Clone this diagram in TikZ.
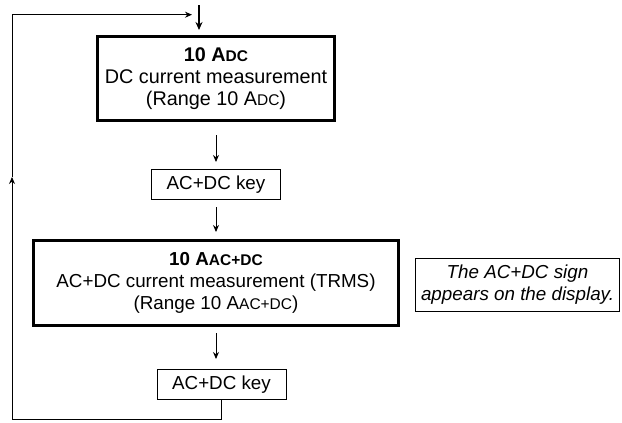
\documentclass[tikz,border=0pt]{standalone}
\usepackage{fontspec}
\setmainfont{Liberation Sans}
\usetikzlibrary{arrows.meta, positioning}

\newcommand{\smallcaptext}[1]{{\fontsize{15.5}{15.5}\selectfont #1}}

\begin{document}
\begin{tikzpicture}[
    x=1pt, y=-1pt,
    every node/.style={font=\fontsize{18.8}{22}\selectfont},
    modebox/.style={rectangle, draw=black, line width=3pt, minimum width=237pt, minimum height=84pt, align=center, inner sep=2pt},
    keybox/.style={rectangle, draw=black, line width=1pt, minimum width=129pt, minimum height=30pt, inner sep=2pt},
    notebox/.style={rectangle, draw=black, line width=1pt, minimum width=204pt, minimum height=53pt, align=center, inner sep=2pt, font=\fontsize{18.8}{22}\selectfont\itshape},
    flow/.style={-{Stealth[length=7pt,width=6pt]}, line width=1pt, shorten <=7pt, shorten >=7pt},
    loopline/.style={line width=1pt}
]
\useasboundingbox (0,0) rectangle (622,423);

\node[modebox, font=\fontsize{19.8}{22}\selectfont] (dcmode) at (216,78.5) {\textbf{10 A\smallcaptext{DC}}\\DC current measurement\\(Range 10 A\smallcaptext{DC})};

\node[keybox, below=47pt of dcmode] (firstkey) {AC+DC key};

\node[modebox, minimum width=365pt, minimum height=85pt, below=39pt of firstkey] (acdcmode) {\textbf{10 A\smallcaptext{AC+DC}}\\AC+DC current measurement (TRMS)\\(Range 10 A\smallcaptext{AC+DC})};

\node[keybox, below=42pt of acdcmode, xshift=5.5pt] (secondkey) {AC+DC key};

\node[notebox, right=15pt of acdcmode, yshift=-2pt] (signnote) {The AC+DC sign\\appears on the display.};

\draw[flow, shorten <=13pt] (dcmode) -- (firstkey);
\draw[flow] (firstkey) -- (acdcmode);
\draw[flow, shorten <=6pt, shorten >=10pt] (acdcmode.south) -- (acdcmode.south |- secondkey.north);

% loop back to the top
\coordinate (loopcorner) at (12,419);
\coordinate (loopmid) at (12,177);
\coordinate (looptop) at (12,14.7);
\coordinate (loopend) at (192,14.7);
\draw[loopline] (secondkey) |- (loopcorner);
\draw[loopline, -{Stealth[length=7pt,width=6pt]}] (loopcorner) -- (loopmid);
\draw[loopline, -{Stealth[length=7pt,width=6pt]}] (loopmid) -- (looptop) -- (loopend);

\coordinate (entry) at (199,5);
\coordinate (entryend) at (199,30);
\draw[line width=2.5pt, -{Stealth[length=8pt,width=7pt]}] (entry) -- (entryend);

\end{tikzpicture}
\end{document}
